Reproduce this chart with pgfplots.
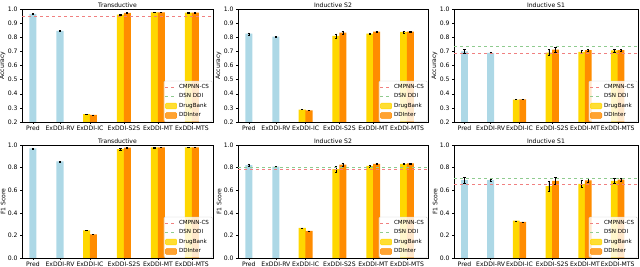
\documentclass[border=0pt]{standalone}
\usepackage{fontspec}
\setmainfont{DejaVu Sans}
\usepackage{pgfplots}
\pgfplotsset{compat=1.18}
\definecolor{lblue}{HTML}{ADD8E6}
\definecolor{gold}{HTML}{FFD700}
\definecolor{dorange}{HTML}{FF8C00}
\definecolor{cmred}{HTML}{F08080}
\definecolor{dsngreen}{HTML}{8FCB8F}
\pgfplotsset{
  panel/.style={
    scale only axis, anchor=south west,
    xmin=0, xmax=5.62,
    xtick={0.32,1.12,2,3,4,5},
    xticklabels={Pred,ExDDI-RV,ExDDI-IC,ExDDI-S2S,ExDDI-MT,ExDDI-MTS},
    tick label style={font=\fontsize{6.1}{7}\selectfont},
    /pgf/number format/assume math mode=true,
    yticklabel style={/pgf/number format/fixed, /pgf/number format/fixed zerofill, /pgf/number format/precision=1, xshift=0.8pt},
    tick align=outside, xtick pos=bottom, ytick pos=left,
    major tick length=1.8pt,
    tick style={black, line width=0.4pt},
    axis line style={line width=0.5pt},
    xticklabel style={yshift=1.5pt},
    every axis title shift=0pt,
    title style={font=\fontsize{6.1}{7}\selectfont, inner sep=1pt},
    ylabel style={font=\fontsize{6.1}{7}\selectfont, yshift=-4.5pt},
    legend style={at={(0.997,0.003)}, anchor=south east,
      font=\fontsize{5.6}{6.5}\selectfont, draw=black!20, fill=white,
      fill opacity=0.8, text opacity=1, rounded corners=1pt,
      inner sep=1.2pt, row sep=-0.2pt, cells={anchor=west}},
    legend image code/.code={\draw[#1] (0cm,0cm) -- (0.4cm,0cm);},
  },
  toprow/.style={panel, height=113pt, ymin=0.2, ymax=1.0, ytick={0.2,0.3,...,1.01}, ylabel={Accuracy}},
  botrow/.style={panel, height=113pt, ymin=0, ymax=1.0, ytick={0,0.2,...,1.01}, ylabel={F1 Score}},
  barb/.style={ybar, bar shift=0pt, bar width=0.21, fill=lblue, draw=none, forget plot,
    error bars/y dir=both, error bars/y explicit,
    error bars/error bar style={black, line width=0.5pt},
    error bars/error mark options={black, rotate=90, mark size=1.1pt, line width=0.4pt}},
  barg/.style={barb, fill=gold},
  baro/.style={barb, fill=dorange},
}
\newcommand{\legimages}{%
  \addlegendimage{cmred, dashed, line width=0.5pt}
  \addlegendimage{dsngreen, dashed, line width=0.5pt}
  \addlegendimage{legend image code/.code={\fill[gold] (0cm,-0.1cm) rectangle (0.4cm,0.1cm);}}
  \addlegendimage{legend image code/.code={\fill[dorange] (0cm,-0.1cm) rectangle (0.4cm,0.1cm);}}
  \legend{CMPNN-CS, DSN DDI, DrugBank, DDInter}%
}
\begin{document}
\begin{tikzpicture}
\useasboundingbox (0,0) rectangle (640pt,267pt);
% ---------- Accuracy Transductive
\begin{axis}[toprow, at={(22pt,145pt)}, width=191pt, title={Transductive}]
\addplot[barb] coordinates {(0.32,0.966) +- (0,0.003) (1.12,0.846) +- (0,0.002)};
\addplot[barg] coordinates {(1.9,0.255) +- (0,0) (2.9,0.960) +- (0,0.006) (3.9,0.976) +- (0,0.002) (4.9,0.975) +- (0,0.002)};
\addplot[baro] coordinates {(2.1,0.250) +- (0,0) (3.1,0.973) +- (0,0.003) (4.1,0.976) +- (0,0.002) (5.1,0.975) +- (0,0.002)};
\addplot[cmred, dashed, line width=0.5pt, forget plot] coordinates {(0,0.950) (5.62,0.950)};
\legimages
\end{axis}
% ---------- Accuracy Inductive S2
\begin{axis}[toprow, at={(238pt,145pt)}, width=190pt, title={Inductive S2}]
\addplot[barb] coordinates {(0.32,0.825) +- (0,0.007) (1.12,0.805) +- (0,0.002)};
\addplot[barg] coordinates {(1.9,0.288) +- (0,0) (2.9,0.810) +- (0,0.015) (3.9,0.826) +- (0,0.005) (4.9,0.838) +- (0,0.006)};
\addplot[baro] coordinates {(2.1,0.283) +- (0,0) (3.1,0.832) +- (0,0.010) (4.1,0.840) +- (0,0.003) (5.1,0.840) +- (0,0.003)};
\legimages
\end{axis}
% ---------- Accuracy Inductive S1
\begin{axis}[toprow, at={(454pt,145pt)}, width=184pt, title={Inductive S1}]
\addplot[barb] coordinates {(0.32,0.700) +- (0,0.015) (1.12,0.690) +- (0,0.006)};
\addplot[barg] coordinates {(1.9,0.358) +- (0,0) (2.9,0.692) +- (0,0.020) (3.9,0.697) +- (0,0.010) (4.9,0.707) +- (0,0.010)};
\addplot[baro] coordinates {(2.1,0.360) +- (0,0) (3.1,0.712) +- (0,0.015) (4.1,0.708) +- (0,0.006) (5.1,0.708) +- (0,0.008)};
\addplot[cmred, dashed, line width=0.5pt, forget plot] coordinates {(0,0.688) (5.62,0.688)};
\addplot[dsngreen, dashed, line width=0.5pt, forget plot] coordinates {(0,0.735) (5.62,0.735)};
\legimages
\end{axis}
% ---------- F1 Transductive
\begin{axis}[botrow, at={(22pt,9pt)}, width=191pt, title={Transductive}]
\addplot[barb] coordinates {(0.32,0.970) +- (0,0.003) (1.12,0.855) +- (0,0.003)};
\addplot[barg] coordinates {(1.9,0.245) +- (0,0) (2.9,0.964) +- (0,0.008) (3.9,0.978) +- (0,0.002) (4.9,0.979) +- (0,0.002)};
\addplot[baro] coordinates {(2.1,0.210) +- (0,0) (3.1,0.977) +- (0,0.003) (4.1,0.980) +- (0,0.002) (5.1,0.980) +- (0,0.002)};
\legimages
\end{axis}
% ---------- F1 Inductive S2
\begin{axis}[botrow, at={(238pt,9pt)}, width=190pt, title={Inductive S2}]
\addplot[barb] coordinates {(0.32,0.822) +- (0,0.012) (1.12,0.808) +- (0,0.003)};
\addplot[barg] coordinates {(1.9,0.266) +- (0,0) (2.9,0.787) +- (0,0.025) (3.9,0.815) +- (0,0.010) (4.9,0.833) +- (0,0.007)};
\addplot[baro] coordinates {(2.1,0.240) +- (0,0) (3.1,0.826) +- (0,0.012) (4.1,0.834) +- (0,0.004) (5.1,0.837) +- (0,0.003)};
\addplot[cmred, dashed, line width=0.5pt, forget plot] coordinates {(0,0.786) (5.62,0.786)};
\addplot[dsngreen, dashed, line width=0.5pt, forget plot] coordinates {(0,0.800) (5.62,0.800)};
\legimages
\end{axis}
% ---------- F1 Inductive S1
\begin{axis}[botrow, at={(454pt,9pt)}, width=184pt, title={Inductive S1}]
\addplot[barb] coordinates {(0.32,0.690) +- (0,0.025) (1.12,0.690) +- (0,0.010)};
\addplot[barg] coordinates {(1.9,0.330) +- (0,0) (2.9,0.635) +- (0,0.045) (3.9,0.655) +- (0,0.030) (4.9,0.683) +- (0,0.025)};
\addplot[baro] coordinates {(2.1,0.320) +- (0,0) (3.1,0.683) +- (0,0.030) (4.1,0.688) +- (0,0.020) (5.1,0.693) +- (0,0.015)};
\addplot[cmred, dashed, line width=0.5pt, forget plot] coordinates {(0,0.655) (5.62,0.655)};
\addplot[dsngreen, dashed, line width=0.5pt, forget plot] coordinates {(0,0.705) (5.62,0.705)};
\legimages
\end{axis}
\end{tikzpicture}
\end{document}
